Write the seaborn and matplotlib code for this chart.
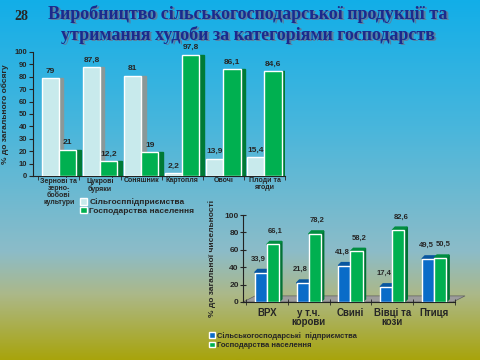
import numpy as np
import pandas as pd
import matplotlib.pyplot as plt
import matplotlib.colors as mcolors
from matplotlib.patches import Rectangle, Polygon
import seaborn as sns

# Production shares by crop (% of total volume)
crops = ['Зернові та\nзерно-\nбобові\nкультури', 'Цукрові\nбуряки', 'Соняшник',
         'Картопля', 'Овочі', 'Плоди та\nягоди']
crop_enterprises = [79, 87.8, 81, 2.2, 13.9, 15.4]
crop_households = [21, 12.2, 19, 97.8, 86.1, 84.6]
crop_series = ['Сільгосппідприємства', 'Господарства населення']

# Livestock shares (% of total headcount)
animals = ['ВРХ', 'у т.ч.\nкорови', 'Свині', 'Вівці та\nкози', 'Птиця']
animal_enterprises = [33.9, 21.8, 41.8, 17.4, 49.5]
animal_households = [66.1, 78.2, 58.2, 82.6, 50.5]
animal_series = ['Сільськогосподарські  підприємства', 'Господарства населення']

sns.set_style('white')
plt.rcParams['font.family'] = ['Liberation Sans', 'DejaVu Sans']

fig = plt.figure(figsize=(4.8, 3.6), dpi=100)

# Background gradient (cyan at top to olive at bottom)
bg = fig.add_axes([0, 0, 1, 1], zorder=-10)
cmap = mcolors.LinearSegmentedColormap.from_list(
    'bg', [(0.0, '#12aee8'), (0.35, '#48b6dc'), (0.7, '#8cbcc8'),
           (0.82, '#acb888'), (1.0, '#a8a40c')])
bg.imshow(np.linspace(0, 1, 256)[:, None], aspect='auto', cmap=cmap,
          extent=[0, 1, 0, 1])
bg.axis('off')

fig.text(0.045, 0.955, '28', fontsize=10, fontweight='bold',
         family='Liberation Serif', ha='center', va='center')
for dx, dy, col in [(0.003, -0.004, '#5a7fa0'), (0, 0, '#1c2a8c')]:
    fig.text(0.517 + dx, 0.933 + dy,
             'Виробництво сільськогосподарської продукції та\n'
             'утримання худоби за категоріями господарств',
             fontsize=13, fontweight='bold', family='Liberation Serif',
             color=col, ha='center', va='center', linespacing=1.2)


def shade(c, f):
    r, g, b = mcolors.to_rgb(c)
    return (r * f, g * f, b * f)


def fmt(v):
    return f'{v:g}'.replace('.', ',')


# ---------- chart 1: crops ----------
df1 = pd.DataFrame({
    'cat': crops * 2,
    'val': crop_enterprises + crop_households,
    'series': [crop_series[0]] * len(crops) + [crop_series[1]] * len(crops),
})
ax1 = fig.add_axes([33 / 480, 1 - 176 / 360, 252 / 480, 124 / 360])
ax1.set_facecolor('none')
pal1 = ['#c8eaec', '#00b050']
sns.barplot(data=df1, x='cat', y='val', hue='series', palette=pal1,
            width=0.84, gap=0, saturation=1, ax=ax1, legend=True)
side1 = {'#c8eaec': '#8a9898', '#00b050': '#007a36'}
for cont, col in zip(ax1.containers, pal1):
    for p in cont:
        x, w, h = p.get_x(), p.get_width(), p.get_height()
        p.set_zorder(3)
        ax1.add_patch(Rectangle((x + w, 0), w * 0.26, h,
                                color=side1[col], zorder=2.5))
    ax1.bar_label(cont, labels=[fmt(v) for v in cont.datavalues], padding=2.5,
                  fontsize=6, fontweight='bold')
ax1.set_ylim(0, 100)
ax1.set_xlim(-0.63, 5.5)
ax1.set_yticks(range(0, 101, 10))
ax1.tick_params(axis='y', labelsize=5.5, length=3, pad=1, left=True)
ax1.tick_params(axis='x', labelsize=5, length=0, pad=1)
for t in ax1.get_xticklabels() + ax1.get_yticklabels():
    t.set_fontweight('bold')
for t in ax1.get_xticklabels():
    t.set_linespacing(0.95)
ax1.set_xticks(np.arange(-0.5, 5.6, 1), minor=True)
ax1.tick_params(axis='x', which='minor', length=3, bottom=True)
ax1.set_xlabel('')
ax1.set_ylabel('% до загального обсягу', fontsize=6, fontweight='bold', labelpad=4)
for s in ['top', 'right']:
    ax1.spines[s].set_visible(False)
for s in ['left', 'bottom']:
    ax1.spines[s].set_color('#222222')
    ax1.spines[s].set_linewidth(0.8)
h1, l1 = ax1.get_legend_handles_labels()
ax1.legend_.remove()
fig.legend(h1, l1, loc='upper left', bbox_to_anchor=(76 / 480, 1 - 194 / 360),
           frameon=False, handlelength=0.8, handleheight=0.8,
           handletextpad=0.3, labelspacing=0.05, borderpad=0,
           prop={'weight': 'bold', 'size': 6})

# ---------- chart 2: livestock ----------
df2 = pd.DataFrame({
    'cat': animals * 2,
    'val': animal_enterprises + animal_households,
    'series': [animal_series[0]] * len(animals) + [animal_series[1]] * len(animals),
})
ax2 = fig.add_axes([243 / 480, 1 - 302 / 360, 212 / 480, 87 / 360])
ax2.set_facecolor('none')
pal2 = ['#0a6cc8', '#00b050']
xlo, xhi = -0.57, 4.45
ddx, ddy = 0.07, 3.5
# grey floor
ax2.add_patch(Polygon([(xlo, 0), (xhi, 0), (xhi + 0.29, 7), (xlo + 0.29, 7)],
                      closed=True, fc='#9c9c9c', ec='#606060', lw=0.5,
                      zorder=0.5, clip_on=False))
sns.barplot(data=df2, x='cat', y='val', hue='series', palette=pal2,
            width=0.58, gap=0, saturation=1, ax=ax2, legend=True)
for cont, col, shift in zip(ax2.containers, pal2, [-1.5, 2.0]):
    for p, v in zip(cont, cont.datavalues):
        x, w, h = p.get_x(), p.get_width(), p.get_height()
        p.set_zorder(3)
        ax2.add_patch(Polygon([(x + w, 0), (x + w + ddx, ddy), (x + w + ddx, h + ddy),
                               (x + w, h)], closed=True, color=shade(col, 0.65),
                              zorder=2.9, clip_on=False))
        ax2.add_patch(Polygon([(x, h), (x + w, h), (x + w + ddx, h + ddy),
                               (x + ddx, h + ddy)], closed=True, color=shade(col, 0.8),
                              zorder=2.9, clip_on=False))
        ax2.annotate(fmt(v), (x + w / 2, h), xytext=(shift, 7),
                     textcoords='offset points', ha='center', va='bottom',
                     fontsize=5.5, fontweight='bold')
ax2.set_ylim(0, 100)
ax2.set_xlim(xlo, xhi)
ax2.set_yticks(range(0, 101, 20))
ax2.tick_params(axis='y', labelsize=6, length=4, direction='inout', pad=1, left=True)
ax2.tick_params(axis='x', labelsize=7, length=0, pad=4)
ax2.set_xticks(np.arange(-0.5, 4.6, 1), minor=True)
ax2.tick_params(axis='x', which='minor', length=4, direction='inout', bottom=True)
for t in ax2.get_xticklabels() + ax2.get_yticklabels():
    t.set_fontweight('bold')
for t in ax2.get_xticklabels():
    t.set_linespacing(0.95)
ax2.set_xlabel('')
ax2.set_ylabel('% до загальної чисельності', fontsize=6, fontweight='bold', labelpad=6)
for s in ['top', 'right']:
    ax2.spines[s].set_visible(False)
for s in ['left', 'bottom']:
    ax2.spines[s].set_color('#222222')
    ax2.spines[s].set_linewidth(0.8)
h2, l2 = ax2.get_legend_handles_labels()
ax2.legend_.remove()
fig.legend(h2, l2, loc='upper left', bbox_to_anchor=(205 / 480, 1 - 328 / 360),
           frameon=False, handlelength=0.8, handleheight=0.8,
           handletextpad=0.3, labelspacing=0.25, borderpad=0,
           prop={'weight': 'bold', 'size': 5.5})

fig.savefig('out.png', dpi=100)
